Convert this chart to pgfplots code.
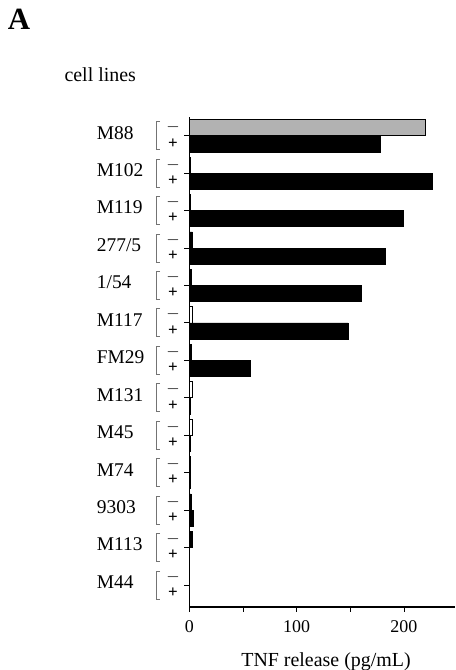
\documentclass[border=0pt]{standalone}
\usepackage{pgfplots}
\pgfplotsset{compat=1.18}
\usepackage{fontspec}
\setmainfont{Liberation Serif}
\begin{document}
\begin{tikzpicture}
\useasboundingbox (0,0) rectangle (456bp,670bp);
\node[font=\fontsize{31}{31}\selectfont\bfseries] at (19bp,651bp) {A};
\node[anchor=west, font=\fontsize{20}{24}\selectfont] at (61bp,595bp) {cell lines};
\begin{axis}[
  at={(189.3bp,63bp)}, anchor=south west,
  scale only axis, width=266.1bp, height=490bp,
  xmin=0, xmax=248, ymin=-12.59, ymax=0.5,
  axis x line=bottom, axis y line=left,
  axis line style={-, line width=1.1pt},
  xtick={0,100,200}, minor xtick={50,150},
  ytick={0,-1,-2,-3,-4,-5,-6,-7,-8,-9,-10,-11,-12}, yticklabels={},
  tick align=outside, major tick length=5bp, minor tick length=5bp,
  every tick/.style={black, line width=0.8pt},
  xticklabel style={font=\fontsize{18}{20}\selectfont, yshift=-5bp},
  /pgf/number format/assume math mode=true,
  clip=false,
]
% minus bars (black)
\addplot[xbar, bar shift=0pt, bar width=0.43, fill=black, draw=black, line width=0.6pt]
  coordinates {(1,-0.785) (0.5,-1.785) (2.8,-2.785) (2,-3.785) (1.5,-5.785) (1,-8.785) (1.5,-9.785) (3,-10.785) (0,-11.785)};
% minus bars (open)
\addplot[xbar, bar shift=0pt, bar width=0.43, fill=white, draw=black, line width=0.6pt]
  coordinates {(2.5,-4.785) (2.8,-6.785) (2.8,-7.785)};
% M88 minus (gray)
\addplot[xbar, bar shift=0pt, bar width=0.43, fill=gray!60, draw=black, line width=0.8pt]
  coordinates {(220,0.215)};
% plus bars
\addplot[xbar, bar shift=0pt, bar width=0.43, fill=black, draw=black, line width=0.6pt]
  coordinates {(178,-0.215) (226,-1.215) (199,-2.215) (183,-3.215) (160,-4.215) (148,-5.215) (57,-6.215) (0.5,-7.215) (1,-8.215) (0.5,-9.215) (3.7,-10.215) (0,-11.215) (0,-12.215)};
\pgfplotsinvokeforeach{0,1,2,3,4,5,6,7,8,9,10,11,12}{
  \node[font=\fontsize{16}{16}\selectfont, inner sep=0pt] at ([xshift=-16.3bp,yshift=8.2bp]axis cs:0,-#1) {$-$};
  \node[font=\fontsize{17}{17}\selectfont\bfseries, inner sep=0pt] at ([xshift=-16.3bp,yshift=-7.6bp]axis cs:0,-#1) {+};
  \draw[black!55, line width=0.8pt] ([xshift=-29.3bp,yshift=14bp]axis cs:0,-#1) -- ([xshift=-33.3bp,yshift=14bp]axis cs:0,-#1) -- ([xshift=-33.3bp,yshift=-14bp]axis cs:0,-#1) -- ([xshift=-29.3bp,yshift=-14bp]axis cs:0,-#1);
}
\newcommand{\cl}[2]{\node[anchor=west, inner sep=0pt, font=\fontsize{19.5}{20}\selectfont] at ([xshift=-92.6bp,yshift=3bp]axis cs:0,-#1) {#2};}
\cl{0}{M88}
\cl{1}{M102}
\cl{2}{M119}
\cl{3}{277/5}
\cl{4}{1/54}
\cl{5}{M117}
\cl{6}{FM29}
\cl{7}{M131}
\cl{8}{M45}
\cl{9}{M74}
\cl{10}{9303}
\cl{11}{M113}
\cl{12}{M44}
\end{axis}
\node[anchor=base, font=\fontsize{20}{22}\selectfont] at (326bp,4bp) {TNF release (pg/mL)};
\end{tikzpicture}
\end{document}
